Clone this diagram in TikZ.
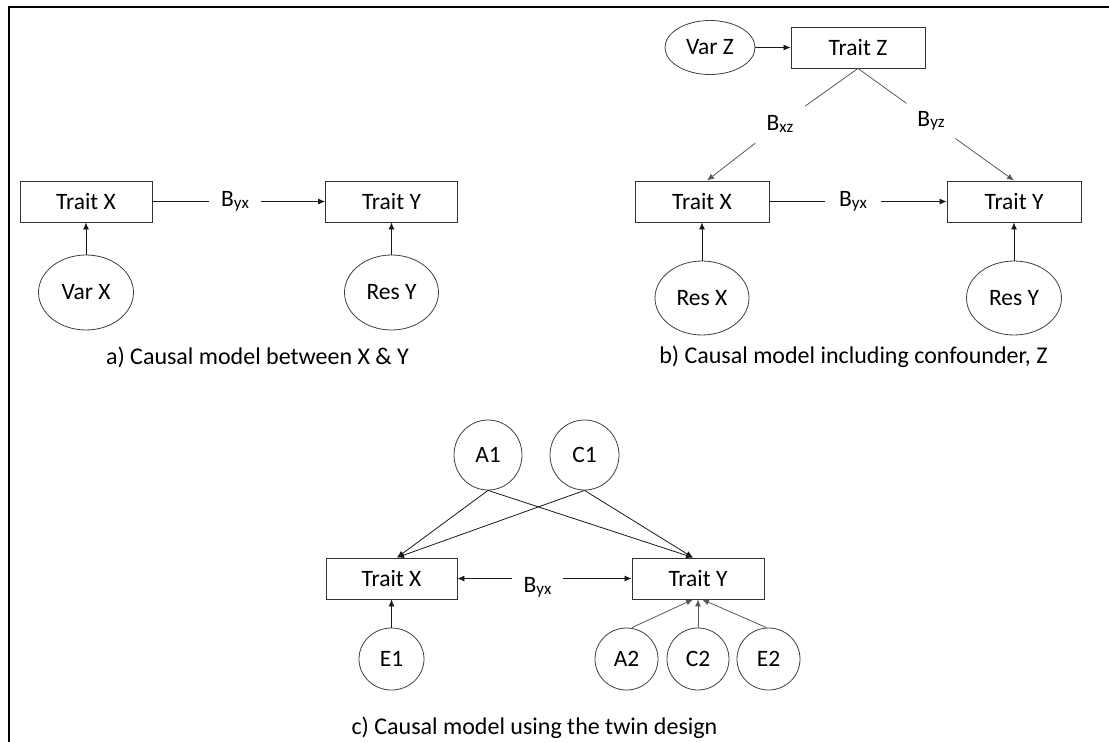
\documentclass[tikz,border=0pt]{standalone}
\usepackage{fontspec}
\setmainfont{Carlito}
\usetikzlibrary{shapes.geometric,arrows.meta,calc}

\newcommand\dgnodefont{\fontsize{23.5}{27}\selectfont}
\newcommand\dgcapfont{\fontsize{24}{28}\selectfont}
% path coefficient: capital letter followed by smaller lowered indices
\newcommand\dgcoef[2]{#1\raisebox{-1.5pt}{\fontsize{17}{20}\selectfont #2}}

\begin{document}
\begin{tikzpicture}[x=1pt,y=-1pt,
  trait/.style={draw=black!80, line width=0.9pt, rectangle, minimum width=132pt,
    minimum height=41pt, inner sep=0pt, font=\dgnodefont, text=black},
  latent/.style={draw=black!75, line width=0.8pt, ellipse, inner sep=0pt,
    font=\dgnodefont, text=black},
  gap/.style={inner sep=0pt, font=\dgnodefont, text=black},
  link/.style={line width=0.8pt, draw=black!90, -{Latex[length=7pt,width=6pt]}},
  plain/.style={line width=0.8pt, draw=black!90},
  soft/.style={draw=black!65},
  figcap/.style={font=\dgcapfont, inner sep=0pt, text=black}]

\useasboundingbox (0,0) rectangle (1109,742);
\fill[white] (0,0) rectangle (1109,742);

% outer frame (top and left edges)
\draw[line width=2pt] (8.8,742) -- (8.8,6.8) -- (1109,6.8);

% ---------- a) causal model between X and Y ----------
\node[trait] (aX) at (86,201.5) {Trait X};
\node[trait] (aY) at (391.5,201.5) {Trait Y};
\node[latent, minimum width=95pt, minimum height=75pt] (aVX) at (86,292.5) {Var X};
\node[latent, minimum width=94pt, minimum height=75pt] (aRY) at (391.5,292.5) {Res Y};
\node[gap, minimum width=52pt] (aB) at (235,201.5) {\dgcoef{B}{yx}};
\draw[plain] (aX) -- (aB);
\draw[link] (aB) -- (aY);
\draw[link] (aVX) -- (aX);
\draw[link] (aRY) -- (aY);
\node[figcap] (capA) at (257.5,357) {a) Causal model between X \& Y};

% ---------- b) causal model including confounder Z ----------
\node[latent, minimum width=90pt, minimum height=54pt] (bVZ) at (710,47.5) {Var Z};
\node[trait, minimum width=134pt] (bZ) at (858,47.5) {Trait Z};
\node[trait, minimum width=134pt] (bX) at (702,201.5) {Trait X};
\node[trait, minimum width=134pt] (bY) at (1014,201.5) {Trait Y};
\node[latent, minimum width=94pt, minimum height=74pt] (bRX) at (702,298) {Res X};
\node[latent, minimum width=95pt, minimum height=74pt] (bRY) at (1014,298) {Res Y};
\draw[link] (bVZ) -- (bZ);
\node[gap, circle, minimum size=62pt] (bBxz) at (780,124) {\dgcoef{B}{xz}};
\node[gap, circle, minimum size=60pt] (bByz) at (931,121) {\dgcoef{B}{yz}};
\draw[plain, soft] (bZ.south) -- (bBxz);
\draw[link, soft] (bBxz) -- ([xshift=5pt]bX.north);
\draw[plain, soft] (bZ.south) -- (bByz);
\draw[link, soft] (bByz) -- (bY.north);
\node[gap, minimum width=56pt] (bB) at (853,201.5) {\dgcoef{B}{yx}};
\draw[plain] (bX) -- (bB);
\draw[link] (bB) -- (bY);
\draw[link] (bRX) -- (bX);
\draw[link] (bRY) -- (bY);
\node[figcap] (capB) at (853.5,357) {b) Causal model including confounder, Z};

% ---------- c) causal model using the twin design ----------
\node[latent, minimum width=68pt, minimum height=70pt] (cA1) at (488,455) {A1};
\node[latent, minimum width=69pt, minimum height=70pt] (cC1) at (584.5,455) {C1};
\node[trait, minimum width=131pt] (cX) at (391.5,578.5) {Trait X};
\node[trait, minimum width=132pt] (cY) at (698,578.5) {Trait Y};
\node[latent, minimum width=65pt, minimum height=62pt] (cE1) at (391.5,659) {E1};
\node[latent, minimum width=63pt, minimum height=62pt] (cA2) at (626.5,659) {A2};
\node[latent, minimum width=62pt, minimum height=62pt] (cC2) at (698,659) {C2};
\node[latent, minimum width=63pt, minimum height=62pt] (cE2) at (768.5,659) {E2};

\draw[link] (cA1.south) -- ([xshift=5.5pt]cX.north);
\draw[link] (cC1.south) -- ([xshift=5.5pt]cX.north);
\draw[link] (cA1.south) -- ([xshift=-5pt]cY.north);
\draw[link] (cC1.south) -- ([xshift=-5pt]cY.north);

\node[gap, minimum width=51pt, minimum height=10pt,
  label={[gap, yshift=-9pt]center:\dgcoef{B}{yx}}] (cB) at (537.5,578.5) {};
\draw[link] (cB) -- (cX);
\draw[link] (cB) -- (cY);

\draw[link] (cE1) -- (cX);
\draw[link, soft] ([xshift=5.5pt]cA2.north) -- ([xshift=-5pt]cY.south);
\draw[link, soft] (cC2) -- (cY);
\draw[link, soft] ([xshift=-2pt]cE2.north) -- ([xshift=4pt]cY.south);
\node[figcap] (capC) at (534.5,728) {c) Causal model using the twin design};

\end{tikzpicture}
\end{document}
